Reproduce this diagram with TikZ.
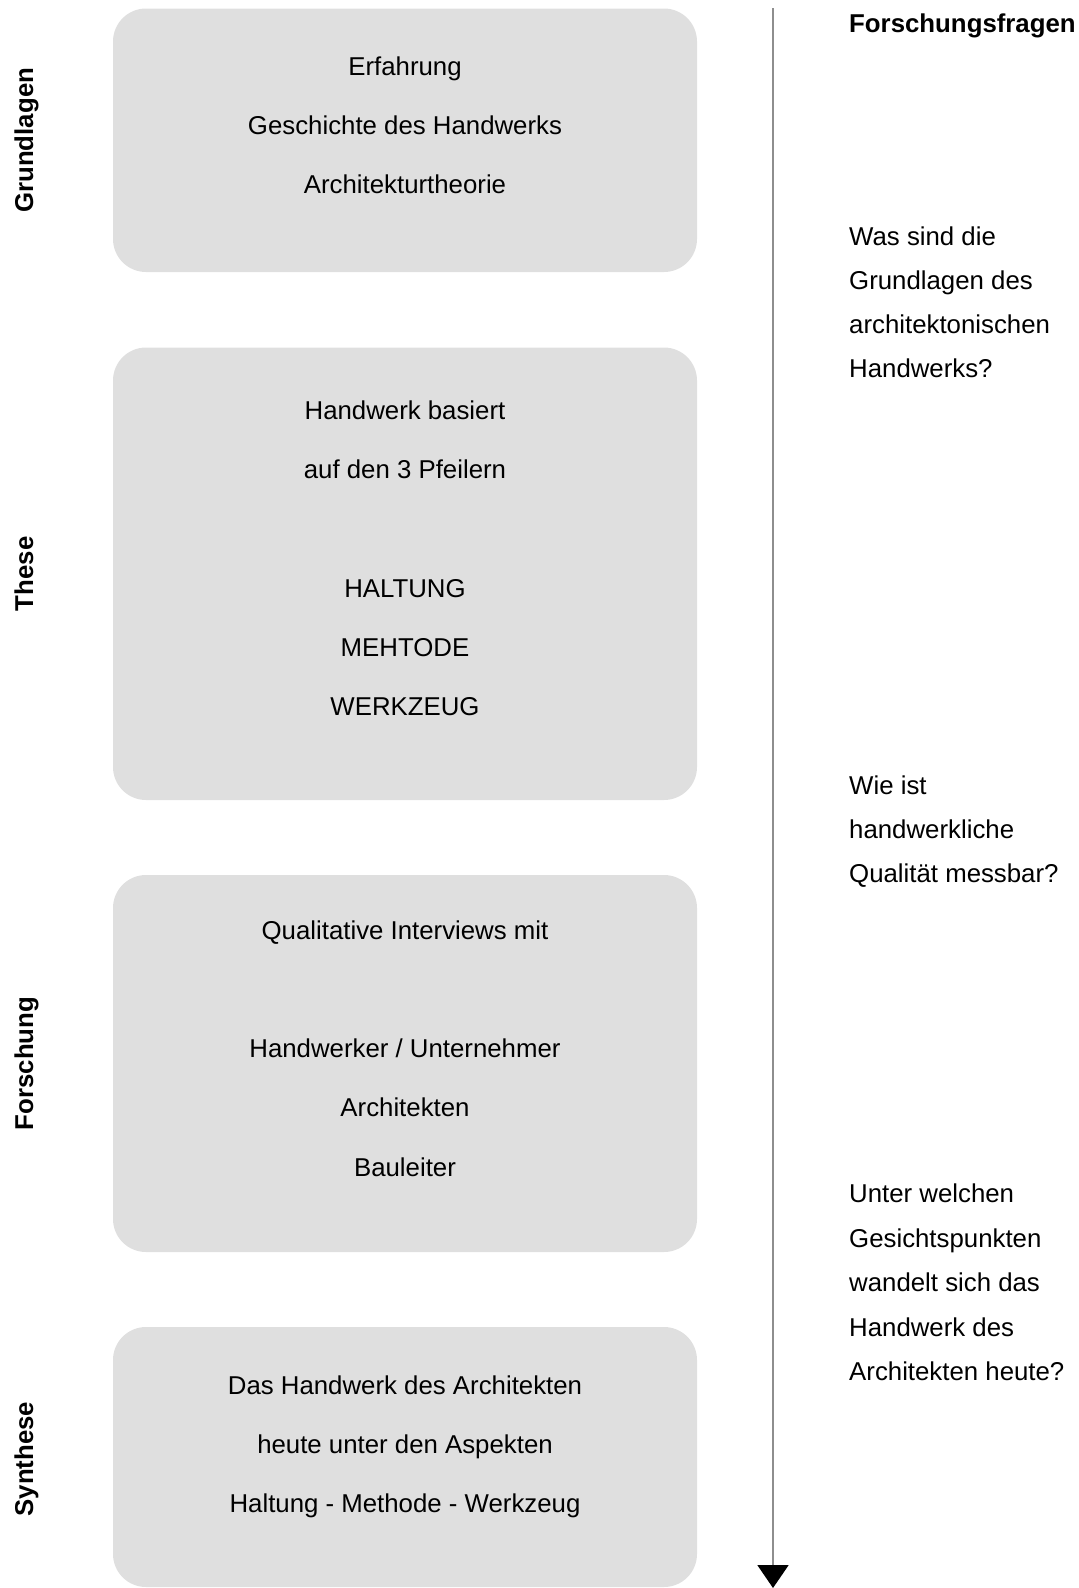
\documentclass[tikz,border=0pt]{standalone}
\usepackage{fontspec}
\setmainfont{Liberation Sans}
\usetikzlibrary{arrows.meta}
\definecolor{boxgray}{HTML}{DFDFDF}
\definecolor{linegray}{HTML}{8E8E8E}
\begin{document}
\begin{tikzpicture}[x=1pt,y=-1pt,
  box/.style={draw=none,fill=boxgray,rounded corners=33pt,inner sep=0pt},
  txt/.style={inner sep=0pt,anchor=base,font=\fontsize{25.8}{30}\selectfont},
  rtxt/.style={inner sep=0pt,anchor=base west,font=\fontsize{25.8}{30}\selectfont},
  side/.style={inner sep=0pt,anchor=base,rotate=90,font=\fontsize{25.8}{30}\selectfont\bfseries}]
\useasboundingbox (0,0) rectangle (1079,1588);
% boxes
\node[box,minimum width=584pt,minimum height=263.5pt] (box1) at (405,140.25) {};
\node[box,minimum width=584pt,minimum height=452.5pt] (box2) at (405,573.75) {};
\node[box,minimum width=584pt,minimum height=377pt] (box3) at (405,1063.5) {};
\node[box,minimum width=584pt,minimum height=260pt] (box4) at (405,1457) {};
% side labels
\node[side] (l1) at (33,140.25) {Grundlagen};
\node[side] (l2) at (33,573.75) {These};
\node[side] (l3) at (33,1063.5) {Forschung};
\node[side] (l4) at (33,1459) {Synthese};
% box texts
\node[txt] (b1a) at (405,75) {Erfahrung};
\node[txt] (b1b) at (405,134.3) {Geschichte des Handwerks};
\node[txt] (b1c) at (405,193.6) {Architekturtheorie};
\node[txt] (b2a) at (405,419.3) {Handwerk basiert};
\node[txt] (b2b) at (405,478.6) {auf den 3 Pfeilern};
\node[txt] (b2c) at (405,597.2) {HALTUNG};
\node[txt] (b2d) at (405,656.5) {MEHTODE};
\node[txt] (b2e) at (405,715.8) {WERKZEUG};
\node[txt] (b3a) at (405,939) {Qualitative Interviews mit};
\node[txt] (b3b) at (405,1057.6) {Handwerker / Unternehmer};
\node[txt] (b3c) at (405,1116.9) {Architekten};
\node[txt] (b3d) at (405,1176.2) {Bauleiter};
\node[txt] (b4a) at (405,1394) {Das Handwerk des Architekten};
\node[txt] (b4b) at (405,1453.3) {heute unter den Aspekten};
\node[txt] (b4c) at (405,1512.6) {Haltung - Methode - Werkzeug};
% timeline arrow
\coordinate (atop) at (773,8);
\coordinate (abot) at (773,1588);
\draw[linegray,line width=2pt,-{Triangle[width=31pt,length=23pt,black]}] (atop) -- (abot);
% right column
\node[rtxt,font=\fontsize{25.8}{30}\selectfont\bfseries] (rh) at (849,32) {Forschungsfragen};
\node[rtxt] (q1a) at (849,245) {Was sind die};
\node[rtxt] (q1b) at (849,289.2) {Grundlagen des};
\node[rtxt] (q1c) at (849,333.4) {architektonischen};
\node[rtxt] (q1d) at (849,377.6) {Handwerks?};
\node[rtxt] (q2a) at (849,794) {Wie ist};
\node[rtxt] (q2b) at (849,838.4) {handwerkliche};
\node[rtxt] (q2c) at (849,882.8) {Qualität messbar?};
\node[rtxt] (q3a) at (849,1202.5) {Unter welchen};
\node[rtxt] (q3b) at (849,1247) {Gesichtspunkten};
\node[rtxt] (q3c) at (849,1291.5) {wandelt sich das};
\node[rtxt] (q3d) at (849,1336) {Handwerk des};
\node[rtxt] (q3e) at (849,1380.5) {Architekten heute?};
\end{tikzpicture}
\end{document}
